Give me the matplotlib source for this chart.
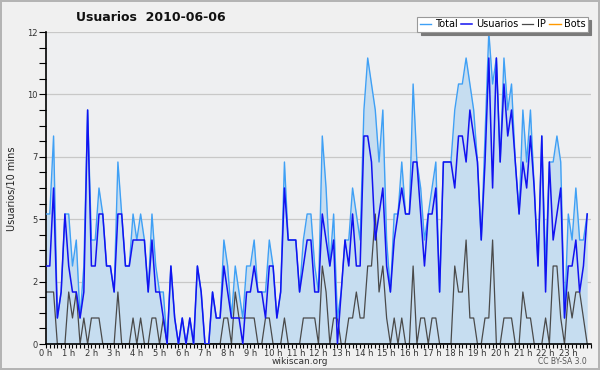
import numpy as np
import matplotlib
matplotlib.use("Agg")
import matplotlib.pyplot as plt
from matplotlib.ticker import FixedLocator, MultipleLocator

# one value per 10 minutes, 0h .. 23h50
usuarios = [3, 3, 6, 1, 2, 5, 3, 2, 2, 1,
            2, 9, 3, 3, 5, 5, 3, 3, 2, 5,
            5, 3, 3, 4, 4, 4, 4, 2, 4, 2,
            2, 1, 0, 3, 1, 0, 1, 0, 1, 0,
            3, 2, 0, 0, 2, 1, 1, 3, 2, 1,
            1, 1, 0, 2, 2, 3, 2, 2, 1, 3,
            3, 1, 2, 6, 4, 4, 4, 2, 3, 4,
            4, 2, 2, 5, 4, 3, 4, 0, 2, 4,
            3, 5, 3, 3, 8, 8, 7, 4, 5, 6,
            3, 2, 4, 5, 6, 5, 5, 7, 7, 5,
            3, 5, 5, 6, 2, 7, 7, 7, 6, 8,
            8, 7, 9, 8, 7, 4, 7, 11, 6, 11,
            7, 10, 8, 9, 7, 5, 7, 6, 8, 6,
            3, 8, 2, 7, 4, 5, 6, 1, 3, 3,
            4, 2, 3, 5]

ip = [2, 2, 2, 0, 0, 0, 2, 1, 2, 0,
      1, 0, 1, 1, 1, 0, 0, 0, 0, 2,
      0, 0, 0, 1, 0, 1, 0, 0, 1, 1,
      0, 1, 0, 0, 0, 0, 0, 0, 0, 0,
      0, 0, 0, 0, 0, 0, 0, 1, 1, 0,
      2, 1, 1, 1, 1, 1, 0, 0, 1, 1,
      0, 0, 0, 1, 0, 0, 0, 0, 1, 1,
      1, 1, 0, 3, 2, 0, 1, 1, 0, 0,
      1, 1, 2, 1, 1, 3, 3, 5, 2, 3,
      1, 0, 1, 0, 1, 0, 0, 3, 0, 1,
      1, 0, 1, 1, 0, 0, 0, 0, 3, 2,
      2, 4, 1, 1, 0, 0, 1, 1, 4, 0,
      0, 1, 1, 1, 0, 0, 2, 1, 1, 0,
      0, 0, 1, 0, 3, 3, 1, 0, 2, 1,
      2, 2, 1, 0]

total = [5, 5, 8, 1, 2, 5, 5, 3, 4, 1,
         3, 9, 4, 4, 6, 5, 3, 3, 2, 7,
         5, 3, 3, 5, 4, 5, 4, 2, 5, 3,
         2, 2, 0, 3, 1, 0, 1, 0, 1, 0,
         3, 2, 0, 0, 2, 1, 1, 4, 3, 1,
         3, 2, 1, 3, 3, 4, 2, 2, 2, 4,
         3, 1, 2, 7, 4, 4, 4, 2, 4, 5,
         5, 3, 2, 8, 6, 3, 5, 1, 2, 4,
         4, 6, 5, 4, 9, 11, 10, 9, 7, 9,
         4, 2, 5, 5, 7, 5, 5, 10, 7, 6,
         4, 5, 6, 7, 2, 7, 7, 7, 9, 10,
         10, 11, 10, 9, 7, 4, 8, 12, 10, 11,
         7, 11, 9, 10, 7, 5, 9, 7, 9, 6,
         3, 8, 3, 7, 7, 8, 7, 1, 5, 4,
         6, 4, 4, 5]

bots = [0] * 144

hour_labels = ["%d h" % h for h in range(24)]
ytick_vals = [0, 2.4, 4.8, 7.2, 9.6, 12]
ytick_labels = ["0", "2", "5", "7", "10", "12"]

x = np.arange(len(total))

fig = plt.figure(figsize=(6, 3.7), dpi=100)
fig.patch.set_facecolor("#f0f0f0")
fig.patch.set_edgecolor("#b4b4b4")
fig.patch.set_linewidth(1.5)

ax = fig.add_axes([46 / 600, 1 - 344 / 370, 545 / 600, 312 / 370])
ax.set_facecolor("#eeeff1")

ax.fill_between(x, total, 0, color="#c6ddf0", linewidth=0, zorder=1)
ax.plot(x, total, color="#3fa0f5", lw=1.0, label="Total", zorder=3)
ax.plot(x, usuarios, color="#1212f0", lw=1.1, label="Usuarios", zorder=4)
ax.plot(x, ip, color="#4a4a4a", lw=0.9, label="IP", zorder=2)
ax.plot(x, bots, color="#ff9900", lw=1.0, label="Bots", zorder=0)

ax.set_xlim(0, 144)
ax.set_ylim(0, 12)

ax.yaxis.set_major_locator(FixedLocator(ytick_vals))
ax.set_yticklabels(ytick_labels)
ax.yaxis.set_minor_locator(MultipleLocator(0.6))
ax.set_xticks(np.arange(0, 144, 6))
ax.set_xticklabels(hour_labels)
ax.xaxis.set_minor_locator(MultipleLocator(1))

ax.tick_params(axis="both", which="both", direction="out", color="black",
               labelsize=6, labelcolor="#333333", width=0.8)
ax.tick_params(axis="y", which="both", length=5, pad=1)
ax.tick_params(axis="x", which="both", length=3, pad=0.5)

ax.grid(axis="y", which="major", color="#c8c8c8", lw=0.9, zorder=0)
ax.set_axisbelow(True)
for s in ["top", "right"]:
    ax.spines[s].set_visible(False)
ax.spines["left"].set_linewidth(1.2)
ax.spines["bottom"].set_linewidth(1.2)

leg = ax.legend(ncol=4, loc="upper right", bbox_to_anchor=(0.98, 0.955),
                bbox_transform=fig.transFigure, borderaxespad=0,
                fontsize=7, frameon=True, fancybox=False,
                shadow={"color": "#7a7a7a", "alpha": 1, "ox": 2.5, "oy": -2.5},
                edgecolor="#999999", framealpha=1, handlelength=1.2,
                handletextpad=0.35, columnspacing=0.35, borderpad=0.25)
leg.get_frame().set_linewidth(0.8)
leg.set_zorder(10)

fig.text(0.252, 0.953, "Usuarios  2010-06-06", ha="center", va="center",
         fontsize=9, fontweight="bold", color="#111111")
fig.text(0.02, 0.49, "Usuarios/10 mins", rotation=90, ha="center",
         va="center", fontsize=7, color="#222222")
fig.text(0.5, 1 - 361 / 370, "wikiscan.org", ha="center", va="center",
         fontsize=6.5, color="#333333")
fig.text(0.978, 1 - 361 / 370, "CC BY-SA 3.0", ha="right", va="center",
         fontsize=5.5, color="#555555")

fig.savefig("out.png", dpi=100, facecolor=fig.get_facecolor(),
            edgecolor=fig.get_edgecolor())
